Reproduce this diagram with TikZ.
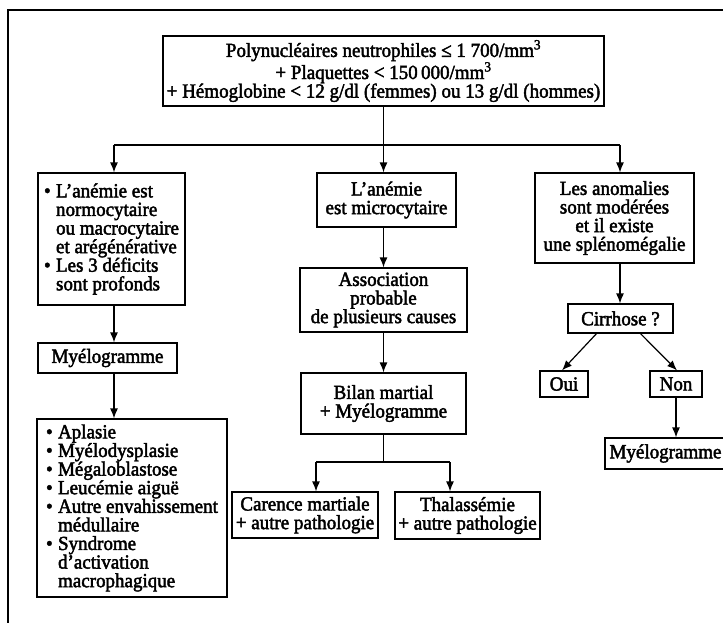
\documentclass[tikz,border=0pt]{standalone}
\usepackage{fontspec}
\setmainfont{Liberation Serif}[FakeStretch=0.95,FakeBold=2.2]
\usetikzlibrary{arrows.meta}

% text size and leading used in every box
\newcommand\dgfont{\fontsize{20pt}{18.6pt}\selectfont}
% bullet item and continuation indent for the list boxes
\newcommand\bul{\makebox[12pt][l]{•}}
\newcommand\ind{\hspace*{12pt}}

\tikzset{
  box/.style={draw, line width=1.2pt, inner sep=0pt, font=\dgfont, align=center},
  listbox/.style={box, align=left},
  link/.style={line width=1.2pt},
  arr/.style={-{Latex[length=10pt,width=8pt]}, line width=1.2pt},
  frame/.style={line width=2.2pt}
}

\begin{document}
\begin{tikzpicture}[x=1pt,y=-1pt]
\useasboundingbox (0,0) rectangle (723,622);
\clip (0,0) rectangle (723,622);
\fill[white] (0,0) rectangle (723,622);

% page frame
\draw[frame] (8,640) -- (8,10) -- (740,10);

% top criteria
\node[box, minimum width=441pt, minimum height=70pt] (top) at (383.5,71)
  {Polynucléaires neutrophiles ≤ 1 700/mm\textsuperscript{3}\\
   + Plaquettes < 150\,000/mm\textsuperscript{3}\\
   + Hémoglobine < 12 g/dl (femmes) ou 13 g/dl (hommes)};

% left column
\node[listbox, minimum width=147pt, minimum height=132pt] (lbox) at (111.5,239)
  {\bul L'anémie est\\
   \ind normocytaire\\
   \ind ou macrocytaire\\
   \ind et arégénérative\\
   \bul Les 3 déficits\\
   \ind sont profonds};
\node[box, minimum width=139pt, minimum height=30pt] (lmyelo) at (107.5,358) {Myélogramme};
\node[listbox, minimum width=190pt, minimum height=178pt] (lres) at (132,508)
  {\bul Aplasie\\
   \bul Myélodysplasie\\
   \bul Mégaloblastose\\
   \bul Leucémie aiguë\\
   \bul Autre envahissement\\
   \ind médullaire\\
   \bul Syndrome\\
   \ind d’activation\\
   \ind macrophagique};

% middle column
\node[box, minimum width=139pt, minimum height=54pt] (m1) at (386.5,200)
  {L'anémie\\est microcytaire};
\node[box, minimum width=167pt, minimum height=64pt] (assoc) at (383.5,300)
  {Association\\probable\\de plusieurs causes};
\node[box, minimum width=165pt, minimum height=61pt] (bilan) at (383.5,403.5)
  {Bilan martial\\+ Myélogramme};
\node[box, minimum width=146pt, minimum height=46pt] (carence) at (305,515)
  {Carence martiale\\+ autre pathologie};
\node[box, minimum width=145pt, minimum height=47pt] (thal) at (467.5,515.5)
  {Thalassémie\\+ autre pathologie};

% right column
\node[box, minimum width=159pt, minimum height=90pt] (r1) at (614.5,218)
  {Les anomalies\\sont modérées\\et il existe\\une splénomégalie};
\node[box, minimum width=105pt, minimum height=29pt] (cirr) at (620.5,318.5) {Cirrhose ?};
\node[box, minimum width=48pt, minimum height=26pt] (oui) at (564,384) {Oui};
\node[box, minimum width=52pt, minimum height=26pt] (non) at (676,384) {Non};
\node[box, minimum width=121pt, minimum height=31pt] (rmyelo) at (665.5,453.5) {Myélogramme};

% branching under the top box
\coordinate (hub) at (383.5,145);
\coordinate (cL) at (114,145);
\coordinate (cR) at (620,145);
\draw[link] (top.south) -- (hub);
\draw[link] (cL) -- (cR);
\draw[arr] (cL) -- (cL |- lbox.north);
\draw[arr] (hub) -- (hub |- m1.north);
\draw[arr] (cR) -- (cR |- r1.north);

% left chain
\draw[arr] (lbox.south -| cL) -- (lmyelo.north -| cL);
\draw[arr] (lmyelo.south -| cL) -- (lres.north -| cL);

% middle chain
\draw[arr] (m1.south -| hub) -- (assoc.north -| hub);
\draw[arr] (assoc.south -| hub) -- (bilan.north -| hub);
\coordinate (bs) at (383.5,462);
\coordinate (bsL) at (316,462);
\coordinate (bsR) at (450,462);
\draw[link] (bilan.south -| bs) -- (bs);
\draw[link] (bsL) -- (bsR);
\draw[arr] (bsL) -- (bsL |- carence.north);
\draw[arr] (bsR) -- (bsR |- thal.north);

% right chain
\draw[arr] (r1.south -| cR) -- (cirr.north -| cR);
\draw[arr] ([xshift=-24pt]cirr.south) -- ([xshift=-2pt]oui.north);
\draw[arr] ([xshift=20pt]cirr.south) -- ([xshift=1pt]non.north);
\draw[arr] (non.south) -- (non.south |- rmyelo.north);
\end{tikzpicture}
\end{document}
